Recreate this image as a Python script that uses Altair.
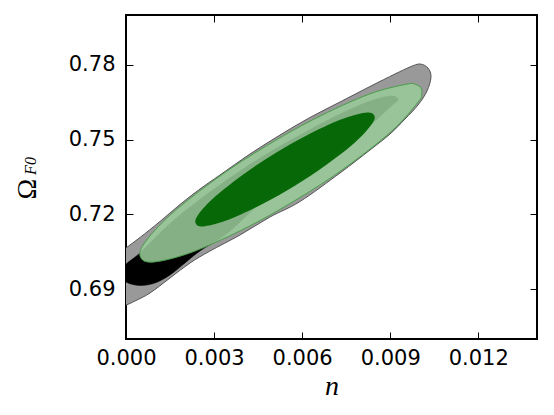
import altair as alt
import pandas as pd

# ---- contour outlines (n, Omega_F0) ----
GRAY_X = [-0.00034, 0.0, 0.000477, 0.001158, 0.001839, 0.002521, 0.003202, 0.004224, 0.005246,
          0.006268, 0.00729, 0.008311, 0.009163, 0.009674, 0.010014, 0.010287, 0.010389, 0.010253,
          0.009946, 0.009504, 0.008993, 0.008311, 0.00729, 0.005927, 0.004905, 0.003883, 0.002861,
          0.00218, 0.001499, 0.000818, 0.000307, 0.0, -0.00034, -0.000545]
GRAY_Y = [0.7033, 0.70651, 0.71073, 0.71715, 0.72397, 0.73019, 0.73581, 0.74423, 0.75185,
          0.75888, 0.76509, 0.77131, 0.77633, 0.77914, 0.78034, 0.77873, 0.77512, 0.76951,
          0.76389, 0.75827, 0.75225, 0.74583, 0.73661, 0.72517, 0.71895, 0.71173, 0.70531,
          0.70049, 0.69448, 0.68846, 0.68525, 0.68364, 0.68284, 0.69327]

BLACK_X = [-0.000273, 0.0, 0.000477, 0.001158, 0.001839, 0.002861, 0.003883, 0.004905, 0.005927,
           0.006949, 0.007971, 0.008652, 0.009095, 0.009265, 0.008993, 0.008482, 0.0078, 0.006779,
           0.005757, 0.004701, 0.003508, 0.002521, 0.00201, 0.001499, 0.000988, 0.000477, 0.0]
BLACK_Y = [0.69648, 0.70009, 0.70451, 0.71253, 0.71975, 0.72898, 0.73741, 0.74503, 0.75185,
           0.75827, 0.76389, 0.7667, 0.7675, 0.76589, 0.76309, 0.75747, 0.75065, 0.74102,
           0.73299, 0.72577, 0.71293, 0.70531, 0.7005, 0.69568, 0.69247, 0.69147, 0.69287]

LGREEN_X = [0.010049, 0.010073, 0.00995, 0.009037, 0.007422, 0.005825, 0.004159, 0.002292,
            0.000984, 0.000511, 0.00061, 0.001523, 0.003137, 0.004735, 0.0064, 0.008267,
            0.009575, 0.009882]
LGREEN_Y = [0.77071, 0.76834, 0.76505, 0.75326, 0.73835, 0.72605, 0.715, 0.70503,
            0.70094, 0.7025, 0.70816, 0.71995, 0.73486, 0.74716, 0.75821, 0.76818,
            0.77228, 0.77203]

DGREEN_X = [0.008448, 0.008383, 0.007797, 0.006768, 0.005753, 0.004697, 0.003512, 0.002681,
            0.002384, 0.002449, 0.003035, 0.004064, 0.005079, 0.006135, 0.00732, 0.008151]
DGREEN_Y = [0.75988, 0.75635, 0.74884, 0.73937, 0.73151, 0.72445, 0.71795, 0.71526,
            0.71614, 0.71967, 0.72714, 0.73664, 0.74451, 0.75157, 0.75803, 0.76076]

X_TICKS = [0.0, 0.003, 0.006, 0.009, 0.012]
Y_TICKS = [0.69, 0.72, 0.75, 0.78]
X_DOMAIN = [0.0, 0.014]
Y_DOMAIN = [0.67, 0.80]
X_TITLE = "n"
Y_TITLE = ["Ω"]
Y_SUB = ["F0"]


def poly(xs, ys):
    return pd.DataFrame({"x": xs, "y": ys, "i": list(range(len(xs)))})


xscale = alt.Scale(domain=X_DOMAIN, nice=False, zero=False)
yscale = alt.Scale(domain=Y_DOMAIN, nice=False, zero=False)

TICK = 7
common = dict(grid=False, domain=False, tickSize=TICK, offset=-TICK, tickColor="black",
              tickWidth=1, labelColor="black", labelFont="DejaVu Sans", labelFontSize=21,
              labelFlush=False, labelOverlap=False)

x_bottom = alt.Axis(values=X_TICKS, format=".3f", orient="bottom", labelPadding=8,
                    title=X_TITLE, titleFont="Liberation Serif", titleFontStyle="italic",
                    titleFontWeight="normal", titleFontSize=28, titlePadding=4,
                    titleColor="black", **common)
y_left = alt.Axis(values=Y_TICKS, format=".2f", orient="left", labelPadding=11,
                  title=None, **common)
x_top = alt.Axis(values=X_TICKS, orient="top", labels=False, title=None, **common)
y_right = alt.Axis(values=Y_TICKS, orient="right", labels=False, title=None, **common)


def layer(xs, ys, xaxis, yaxis, **mark):
    return alt.Chart(poly(xs, ys)).mark_line(interpolate="cardinal-closed", clip=True, **mark).encode(
        x=alt.X("x:Q", scale=xscale, axis=xaxis),
        y=alt.Y("y:Q", scale=yscale, axis=yaxis),
        order=alt.Order("i:Q"),
    )


gray = layer(GRAY_X, GRAY_Y, x_bottom, y_left, fill="#999999", stroke="#555555", strokeWidth=1)
black = layer(BLACK_X, BLACK_Y, x_top, y_right, fill="#000000", stroke="#000000", strokeWidth=0.5)
lgreen = layer(LGREEN_X, LGREEN_Y, None, None, fill="#99CA99", fillOpacity=0.87,
               stroke="#4a9e4a", strokeWidth=1)
dgreen = layer(DGREEN_X, DGREEN_Y, None, None, fill="#006400", fillOpacity=0.95,
               stroke="#006400", strokeOpacity=0)

omega = alt.Chart(pd.DataFrame({"t": Y_TITLE})).mark_text(
    angle=270, font="Liberation Serif", fontSize=28, align="center", baseline="middle", color="black"
).encode(text="t:N", x=alt.value(-98), y=alt.value(174))
sub = alt.Chart(pd.DataFrame({"t": Y_SUB})).mark_text(
    angle=270, font="Liberation Serif", fontStyle="italic", fontSize=16, align="center",
    baseline="middle", color="black"
).encode(text="t:N", x=alt.value(-95), y=alt.value(151))

chart = (
    alt.layer(gray, black, lgreen, dgreen, omega, sub)
    .resolve_axis(x="independent", y="independent")
    .properties(width=411, height=324, padding={"left": 6, "top": 6, "right": 5, "bottom": 5},
                background="white")
    .configure_view(stroke="black", strokeWidth=2)
)

chart.save("out.html", embed_options={"renderer": "svg", "actions": False})
